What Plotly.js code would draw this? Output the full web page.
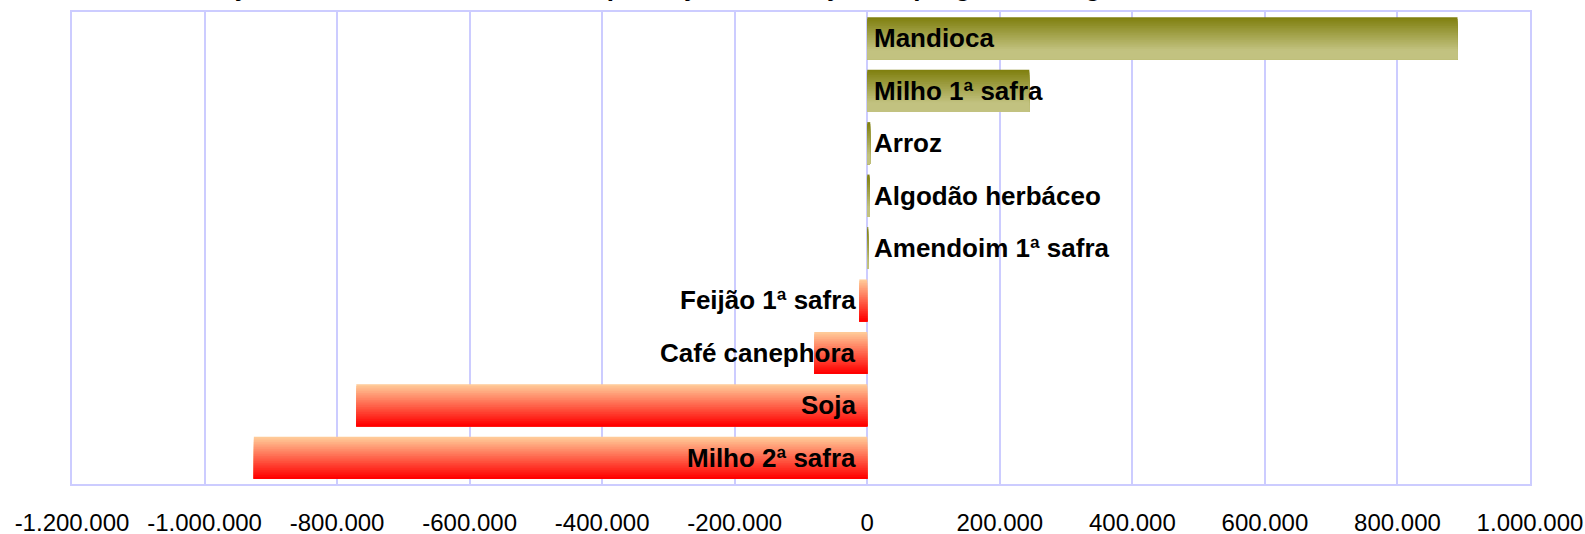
<!DOCTYPE html>
<html>
<head>
<meta charset="utf-8">
<script src="https://cdn.plot.ly/plotly-3.0.1.min.js"></script>
<style>
html,body{margin:0;padding:0;background:#fff;}
#chart{width:1585px;height:534px;}
</style>
</head>
<body>
<div id="chart"></div>
<script>
// ---- data ----
const titleText = "Variação absoluta da estimativa de produção em relação ao prognóstico agrícola";
const categories = ["Mandioca", "Milho 1ª safra", "Arroz", "Algodão herbáceo", "Amendoim 1ª safra",
                    "Feijão 1ª safra", "Café canephora", "Soja", "Milho 2ª safra"];
const values = [890600, 244500, 4500, 3500, 1500, -12000, -80000, -771000, -925600];
const tickValues = [-1200000, -1000000, -800000, -600000, -400000, -200000, 0, 200000, 400000, 600000, 800000, 1000000];
const tickLabels = ["-1.200.000", "-1.000.000", "-800.000", "-600.000", "-400.000", "-200.000", "0",
                    "200.000", "400.000", "600.000", "800.000", "1.000.000"];

// ---- styles ----
const posTop = [128, 128, 16], posBottom = [194, 194, 128];
const negTop = [255, 202, 152], negBottom = [255, 0, 0];
const gridColor = "#ccccff";
const barWidth = 0.8;
const slices = 24;

function mix(a, b, t) {
  return "rgb(" + a.map((v, k) => Math.round(v + (b[k] - v) * t)).join(",") + ")";
}

const traces = [];
for (let i = 0; i < slices; i++) {
  const t = i / (slices - 1);
  const tp = Math.min(1, t / 0.8);
  const colors = values.map(v => v >= 0 ? mix(posTop, posBottom, tp) : mix(negTop, negBottom, t));
  const step = barWidth / slices;
  traces.push({
    type: "bar",
    orientation: "h",
    x: values,
    y: categories,
    offset: -barWidth / 2 + i * step,
    width: barWidth - i * step,
    marker: {color: colors, line: {width: 0}},
    hoverinfo: "skip",
    showlegend: false
  });
}

const annotations = categories.map((c, k) => ({
  x: 0, y: c, xref: "x", yref: "y",
  text: "<b>" + c + "</b>",
  showarrow: false,
  xanchor: values[k] >= 0 ? "left" : "right",
  yanchor: "middle",
  xshift: values[k] >= 0 ? 5 : -9,
  font: {family: "Liberation Sans, Arial, sans-serif", size: 26, color: "#000"}
}));

annotations.push({
  xref: "paper", yref: "paper", x: 0.41, y: 1,
  xanchor: "center", yanchor: "middle", yshift: 25.5,
  text: "<b>" + titleText + "</b>",
  showarrow: false,
  font: {family: "Liberation Sans, Arial, sans-serif", size: 26, color: "#000"}
});

const layout = {
  width: 1585, height: 534,
  margin: {l: 72, r: 55, t: 12, b: 50, pad: 0},
  paper_bgcolor: "#fff", plot_bgcolor: "#fff",
  barmode: "overlay",
  showlegend: false,
  xaxis: {
    range: [-1200000, 1000000],
    tickvals: tickValues, ticktext: tickLabels,
    showgrid: true, gridcolor: gridColor, gridwidth: 2,
    zeroline: true, zerolinecolor: gridColor, zerolinewidth: 2,
    showline: true, linecolor: gridColor, linewidth: 2, mirror: true,
    ticks: "", ticklabelstandoff: 16,
    tickfont: {family: "Liberation Sans, Arial, sans-serif", size: 24, color: "#000"},
    automargin: false, fixedrange: true
  },
  yaxis: {
    type: "category",
    autorange: "reversed",
    showticklabels: false, showgrid: false, zeroline: false,
    showline: true, linecolor: gridColor, linewidth: 2, mirror: true,
    ticks: "", automargin: false, fixedrange: true
  },
  annotations: annotations
};

Plotly.newPlot("chart", traces, layout, {displayModeBar: false, staticPlot: true});
</script>
</body>
</html>
